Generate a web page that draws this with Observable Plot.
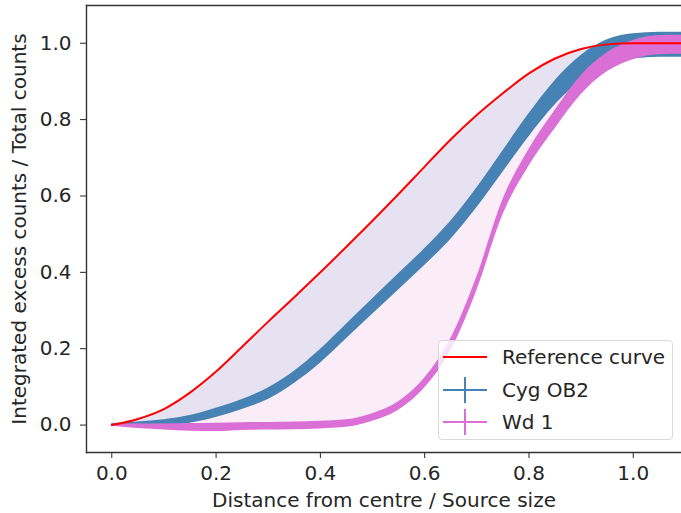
<!DOCTYPE html>
<html>
<head>
<meta charset="utf-8">
<script src="https://cdn.jsdelivr.net/npm/d3@7"></script>
<script src="https://cdn.jsdelivr.net/npm/@observablehq/plot@0.6"></script>
<style>
  html, body { margin: 0; padding: 0; background: #fff; }
  #wrap { position: relative; width: 681px; height: 513px; overflow: hidden; font-family: "DejaVu Sans", sans-serif; }
  #legend { position: absolute; left: 438px; top: 340px; width: 235px; height: 100px;
    border: 1px solid #d9d9d9; border-radius: 4px; background: rgba(255,255,255,0.8);
    box-sizing: border-box; font-size: 20px; color: #262626; }
  .row { position: absolute; left: 0; height: 30px; display: flex; align-items: center; }
  .row svg { margin-left: 4px; }
  .row span { margin-left: 15px; white-space: nowrap; }
</style>
</head>
<body>
<div id="wrap"><div id="chart"></div><div id="legend"></div></div>
<script>
// Distance from centre / Source size
const xs = [0, 0.05, 0.10, 0.15, 0.20, 0.25, 0.30, 0.35, 0.40, 0.45, 0.50, 0.55,
            0.60, 0.65, 0.70, 0.75, 0.80, 0.85, 0.90, 0.95, 1.00, 1.05, 1.10];
// Reference curve
const refCurve = [0, 0.016, 0.042, 0.085, 0.140, 0.205, 0.271, 0.335, 0.400, 0.467, 0.535, 0.605,
                  0.677, 0.748, 0.812, 0.869, 0.921, 0.960, 0.985, 0.997, 1.0, 1.0, 1.0];
// Cyg OB2 integrated excess counts and errors
const cygOB2 = [0, 0.002, 0.006, 0.015, 0.032, 0.054, 0.082, 0.125, 0.180, 0.245, 0.310, 0.375,
                0.440, 0.510, 0.595, 0.690, 0.785, 0.870, 0.935, 0.976, 0.992, 0.996, 0.996];
const cygErr = [0.004, 0.006, 0.008, 0.010, 0.012, 0.013, 0.015, 0.016, 0.018, 0.019, 0.020, 0.021,
                0.022, 0.024, 0.026, 0.028, 0.030, 0.032, 0.033, 0.033, 0.033, 0.033, 0.033];
// Wd 1 integrated excess counts and errors
const wd1 = [0, -0.003, -0.005, -0.006, -0.006, -0.004, -0.003, -0.002, 0.000, 0.004, 0.020, 0.050,
             0.110, 0.210, 0.370, 0.570, 0.700, 0.800, 0.890, 0.950, 0.982, 0.995, 0.996];
const wd1Err = [0.003, 0.006, 0.008, 0.010, 0.011, 0.010, 0.010, 0.010, 0.010, 0.010, 0.010, 0.011,
                0.013, 0.016, 0.018, 0.020, 0.022, 0.024, 0.025, 0.025, 0.025, 0.025, 0.025];

const xTicks = [0, 0.2, 0.4, 0.6, 0.8, 1.0];
const yTicks = [0, 0.2, 0.4, 0.6, 0.8, 1.0];
const legendLabels = ["Reference curve", "Cyg OB2", "Wd 1"];
const legendColors = ["#ff0000", "#4682b4", "#da70d6"];

const rows = xs.map((x, i) => ({
  x, ref: refCurve[i], cyg: cygOB2[i], cygLo: cygOB2[i] - cygErr[i], cygHi: cygOB2[i] + cygErr[i],
  wd: wd1[i], wdLo: wd1[i] - wd1Err[i], wdHi: wd1[i] + wd1Err[i]
}));

const fmt = d3.format(".1f");
const plot = Plot.plot({
  width: 681, height: 513,
  marginLeft: 86, marginTop: 5, marginBottom: 61, marginRight: 0,
  style: { fontFamily: "DejaVu Sans", fontSize: "20px", color: "#262626", background: "white" },
  x: { domain: [-0.0485, 1.0925] },
  y: { domain: [-0.0718, 1.0988] },
  marks: [
    Plot.areaY(rows, { x: "x", y1: "ref", y2: "cyg", fill: "#e7e2f1", curve: "monotone-x", clip: true }),
    Plot.areaY(rows, { x: "x", y1: "cyg", y2: "wd", fill: "#fbedf8", curve: "monotone-x", clip: true }),
    Plot.areaY(rows, { x: "x", y1: "cygLo", y2: "cygHi", fill: legendColors[1], curve: "monotone-x", clip: true }),
    Plot.areaY(rows, { x: "x", y1: "wdLo", y2: "wdHi", fill: legendColors[2], curve: "monotone-x", clip: true }),
    Plot.lineY(rows, { x: "x", y: "ref", stroke: legendColors[0], strokeWidth: 2, curve: "monotone-x", clip: true }),
    Plot.axisX({ ticks: xTicks, tickFormat: fmt, tickSize: 6, tickPadding: 7, stroke: "#262626",
                 label: "Distance from centre / Source size", labelAnchor: "center", labelArrow: "none", labelOffset: 54 }),
    Plot.axisY({ ticks: yTicks, tickFormat: fmt, tickSize: 6, tickPadding: 9, stroke: "#262626",
                 label: "Integrated excess counts / Total counts", labelAnchor: "center", labelArrow: "none", labelOffset: 75 }),
    Plot.frame({ anchor: "left", stroke: "#333", strokeWidth: 1.4 }),
    Plot.frame({ anchor: "top", stroke: "#333", strokeWidth: 1.4 }),
    Plot.frame({ anchor: "bottom", stroke: "#333", strokeWidth: 1.4 })
  ]
});
// strip any remaining arrow glyphs from axis labels
plot.querySelectorAll("text").forEach(t => {
  if (/[→↑]/.test(t.textContent)) t.textContent = t.textContent.replace(/\s*[→↑]\s*/g, "").trim();
});
document.getElementById("chart").appendChild(plot);

const legend = document.getElementById("legend");
legendLabels.forEach((lab, i) => {
  const row = document.createElement("div");
  row.className = "row";
  row.style.top = (1 + i * 32.5) + "px";
  const cross = i > 0 ? `<line x1="22" x2="22" y1="2" y2="28" stroke="${legendColors[i]}" stroke-width="2"/>` : "";
  row.innerHTML = `<svg width="44" height="30"><line x1="0" x2="44" y1="15" y2="15" stroke="${legendColors[i]}" stroke-width="2"/>${cross}</svg><span>${lab}</span>`;
  legend.appendChild(row);
});
</script>
</body>
</html>
